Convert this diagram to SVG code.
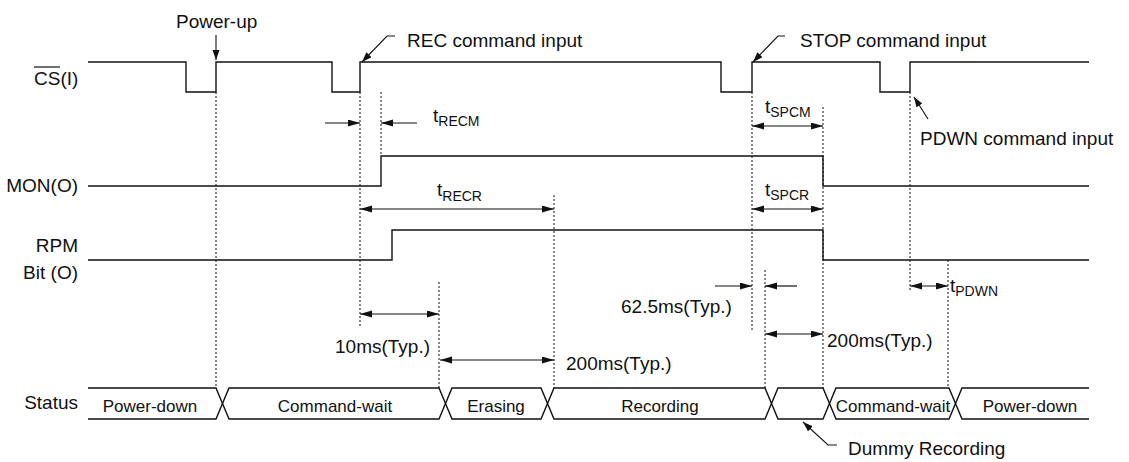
<svg xmlns="http://www.w3.org/2000/svg" width="1129" height="462" viewBox="0 0 1129 462">
<style>
text{font-family:"Liberation Sans",Arial,sans-serif;font-size:19px;fill:#111}
.st{font-size:17px;text-anchor:middle}
.lbl{text-anchor:end}
.sub{font-size:14px}
.sig{fill:none;stroke:#111;stroke-width:1.4}
.dot{fill:none;stroke:#111;stroke-width:1;stroke-dasharray:2,2}
.dim{fill:none;stroke:#111;stroke-width:1.2}
.dbl{marker-start:url(#ah);marker-end:url(#ah)}
.one{marker-end:url(#ah)}
.ann{fill:none;stroke:#111;stroke-width:1.1;marker-end:url(#ah2)}
</style>
<defs>
<marker id="ah" markerUnits="userSpaceOnUse" markerWidth="12" markerHeight="8" refX="12" refY="3.5" orient="auto-start-reverse"><path d="M0,0 L12,3.5 L0,7 z" fill="#111"/></marker>
<marker id="ah2" markerUnits="userSpaceOnUse" markerWidth="11" markerHeight="8" refX="10" refY="3.5" orient="auto"><path d="M0,0 L10,3.5 L0,7 z" fill="#111"/></marker>
</defs>

<g id="cs">
<text x="34" y="85">CS(I)</text>
<line x1="34" y1="67" x2="60" y2="67" stroke="#111" stroke-width="1.2"/>
<path class="sig" d="M88,62 H186 V92 H216 V62 H332 V92 H360 V62 H721 V92 H752 V62 H880 V92 H910 V62 H1089"/>
</g>

<g id="mon">
<text class="lbl" x="78" y="192">MON(O)</text>
<path class="sig" d="M88,186 H381 V156 H823 V186 H1089"/>
</g>

<g id="rpm">
<text class="lbl" x="78" y="252">RPM</text>
<text class="lbl" x="78" y="279">Bit (O)</text>
<path class="sig" d="M88,260 H392 V230 H823 V260 H1089"/>
</g>

<g id="status">
<text class="lbl" x="78" y="409">Status</text>
<path class="sig" d="M88,388 H216 L229,419 H439 L452,388 H541 L554,419 H765 L778,388 H823 L836,419 H949 L962,388 H1089"/>
<path class="sig" d="M88,419 H216 L229,388 H439 L452,419 H541 L554,388 H765 L778,419 H823 L836,388 H949 L962,419 H1089"/>
<text class="st" x="150" y="412">Power-down</text>
<text class="st" x="335" y="412">Command-wait</text>
<text class="st" x="496" y="412">Erasing</text>
<text class="st" x="660" y="412">Recording</text>
<text class="st" x="893" y="412">Command-wait</text>
<text class="st" x="1030" y="412">Power-down</text>
</g>

<g id="annotations">
<text x="176" y="28">Power-up</text>
<text x="407" y="47">REC command input</text>
<text x="800" y="47">STOP command input</text>
<text x="920" y="145">PDWN command input</text>
<text x="848" y="455">Dummy Recording</text>
<text x="433" y="122">t<tspan class="sub" dy="4">RECM</tspan></text>
<text x="437" y="196">t<tspan class="sub" dy="5">RECR</tspan></text>
<text x="765" y="113">t<tspan class="sub" dy="4">SPCM</tspan></text>
<text x="765" y="196">t<tspan class="sub" dy="4">SPCR</tspan></text>
<text x="950" y="292">t<tspan class="sub" dy="4">PDWN</tspan></text>
<text x="335" y="353">10ms(Typ.)</text>
<text x="566" y="370">200ms(Typ.)</text>
<text x="621" y="313">62.5ms(Typ.)</text>
<text x="827" y="347">200ms(Typ.)</text>
</g>

<g id="connectors">
<line class="dot" x1="216" y1="92" x2="216" y2="388"/>
<line class="dot" x1="360" y1="92" x2="360" y2="328"/>
<line class="dot" x1="381" y1="92" x2="381" y2="156"/>
<line class="dot" x1="439" y1="282" x2="439" y2="388"/>
<line class="dot" x1="554" y1="195" x2="554" y2="388"/>
<line class="dot" x1="752" y1="92" x2="752" y2="330"/>
<line class="dot" x1="765" y1="270" x2="765" y2="388"/>
<line class="dot" x1="823" y1="107" x2="823" y2="388"/>
<line class="dot" x1="910" y1="92" x2="910" y2="290"/>
<line class="dot" x1="948" y1="260" x2="948" y2="388"/>

<line class="dim one" x1="325" y1="123" x2="360" y2="123"/>
<line class="dim one" x1="417" y1="123" x2="381" y2="123"/>
<line class="dim one" x1="715" y1="286" x2="752" y2="286"/>
<line class="dim one" x1="797" y1="286" x2="765" y2="286"/>

<line class="dim dbl" x1="360" y1="209" x2="554" y2="209"/>
<line class="dim dbl" x1="752" y1="126" x2="823" y2="126"/>
<line class="dim dbl" x1="752" y1="209" x2="823" y2="209"/>
<line class="dim dbl" x1="360" y1="314" x2="439" y2="314"/>
<line class="dim dbl" x1="440" y1="360" x2="554" y2="360"/>
<line class="dim dbl" x1="765" y1="334" x2="823" y2="334"/>
<line class="dim dbl" x1="910" y1="286" x2="948" y2="286"/>

<line class="ann" x1="216" y1="35" x2="216" y2="60"/>
<polyline class="ann" points="395,36 387,36 362,62"/>
<polyline class="ann" points="785,36 778,36 753,62"/>
<line class="ann" x1="928" y1="119" x2="914" y2="97"/>
<polyline class="ann" points="837,445 828,445 803,422"/>
</g>
</svg>
